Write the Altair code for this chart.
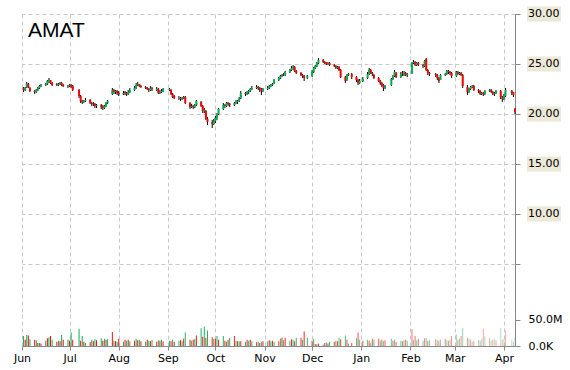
import altair as alt
import pandas as pd

ticker = "AMAT"

# exchange holidays inside the period (no bars on these days)
holidays = ["2014-07-04", "2014-09-01", "2014-11-27", "2014-12-25",
            "2015-01-01", "2015-01-19", "2015-02-16", "2015-04-03"]

# daily prices, one line per month (Jun 2014 .. Apr 2015)
opens = [
    22.6, 22.4, 22.7, 23.0, 22.6, 22.3, 22.2, 22.4, 22.6, 22.8, 22.9, 23.0, 23.2, 23.4, 23.1, 23.0, 22.9, 23.0, 23.1, 22.9, 22.8,
    22.8, 22.9, 22.8, 22.4, 21.8, 21.3, 21.2, 21.3, 21.4, 21.1, 21.0, 21.0, 20.8, 20.9, 20.8, 20.6, 20.8, 21.1, 22.0, 22.4, 22.2, 22.3,
    22.1, 22.0, 22.2, 22.1, 22.0, 22.2, 22.4, 22.6, 22.9, 23.0, 22.8, 22.7, 22.6, 22.5, 22.4, 22.6, 22.4, 22.5, 22.1, 22.2, 22.3,
    22.4, 22.4, 22.0, 21.8, 21.6, 21.6, 21.5, 21.6, 21.7, 21.1, 20.7, 20.8, 20.7, 20.9, 21.2, 20.8, 20.3, 20.3, 19.5, 19.2, 19.0,
    19.3, 19.6, 20.0, 20.5, 20.9, 20.8, 21.1, 21.0, 20.9, 21.1, 21.2, 21.3, 21.6, 22.1, 22.0, 22.2, 22.3, 22.5, 22.6, 22.7, 22.6, 22.5, 22.3,
    22.5, 22.6, 22.8, 22.9, 23.1, 23.4, 23.6, 23.8, 24.0, 23.9, 24.2, 24.4, 24.6, 24.7, 24.3, 24.1, 23.9, 23.8, 23.6,
    23.8, 24.2, 24.6, 24.8, 25.1, 25.4, 25.2, 25.2, 25.0, 25.1, 24.9, 24.8, 24.6, 24.7, 24.4, 23.7, 23.4, 23.9, 24.0, 23.7, 23.4, 23.1,
    23.3, 23.6, 24.0, 24.4, 24.1, 23.9, 23.6, 23.3, 23.1, 22.9, 22.6, 22.9, 23.5, 23.8, 24.1, 23.7, 24.1, 23.9, 24.1, 23.9,
    24.1, 25.1, 25.2, 24.9, 25.1, 24.9, 24.8, 25.5, 24.4, 24.1, 24.0, 23.9, 23.6, 23.4, 23.9, 24.0, 24.3, 24.2, 24.1,
    23.8, 24.2, 24.0, 24.1, 23.9, 22.7, 22.2, 22.5, 22.7, 22.8, 22.4, 22.3, 22.0, 22.1, 22.0, 22.3, 22.4, 22.2, 22.0, 22.1, 22.3, 21.7,
    21.5, 21.8, 22.3, 22.2, 20.5,
]
highs = [
    22.7, 22.7, 23.2, 23.1, 22.7, 22.4, 22.5, 22.7, 22.9, 23.0, 23.1, 23.4, 23.6, 23.4, 23.2, 23.1, 23.1, 23.2, 23.2, 23.0, 22.9,
    23.0, 23.0, 22.9, 22.5, 21.9, 21.4, 21.4, 21.6, 21.5, 21.2, 21.2, 21.1, 21.0, 21.0, 20.9, 20.9, 21.2, 21.4, 22.6, 22.5, 22.4, 22.4,
    22.3, 22.3, 22.3, 22.2, 22.4, 22.6, 22.8, 23.1, 23.2, 23.0, 22.9, 22.8, 22.7, 22.6, 22.8, 22.7, 22.7, 22.6, 22.4, 22.5, 22.6,
    22.6, 22.5, 22.1, 21.9, 21.8, 21.7, 21.7, 21.8, 21.8, 21.2, 21.0, 20.9, 21.0, 21.4, 21.3, 20.9, 20.6, 20.4, 19.7, 19.4, 19.5,
    19.8, 20.1, 20.6, 21.1, 21.0, 21.2, 21.2, 21.1, 21.2, 21.4, 21.4, 21.7, 22.3, 22.2, 22.3, 22.4, 22.6, 22.8, 22.9, 22.8, 22.7, 22.6, 22.6,
    22.8, 22.9, 23.0, 23.1, 23.5, 23.7, 23.9, 24.0, 24.1, 24.3, 24.5, 24.8, 24.9, 24.8, 24.4, 24.2, 24.0, 23.9, 23.9,
    24.4, 24.7, 24.9, 25.2, 25.6, 25.5, 25.3, 25.2, 25.2, 25.2, 25.0, 24.9, 24.8, 24.8, 24.5, 23.8, 24.0, 24.1, 24.1, 23.8, 23.5, 23.5,
    23.7, 24.2, 24.6, 24.5, 24.2, 24.0, 23.7, 23.4, 23.2, 23.0, 22.9, 23.6, 23.9, 24.4, 24.2, 24.2, 24.3, 24.3, 24.2, 24.1,
    25.2, 25.4, 25.3, 25.2, 25.2, 25.0, 25.4, 25.6, 24.5, 24.2, 24.1, 24.0, 23.7, 24.0, 24.1, 24.4, 24.4, 24.3, 24.2,
    24.3, 24.3, 24.2, 24.2, 24.0, 22.9, 22.6, 22.8, 22.9, 22.9, 22.5, 22.4, 22.2, 22.2, 22.4, 22.5, 22.5, 22.3, 22.2, 22.4, 22.4, 21.8,
    22.0, 22.6, 22.4, 22.2, 20.6,
]
lows = [
    22.2, 22.3, 22.6, 22.6, 22.2, 22.0, 22.1, 22.3, 22.5, 22.7, 22.8, 22.9, 23.1, 23.0, 22.8, 22.8, 22.8, 22.9, 22.8, 22.7, 22.6,
    22.7, 22.6, 22.3, 21.6, 21.1, 21.0, 21.1, 21.2, 21.0, 20.8, 20.8, 20.6, 20.6, 20.5, 20.4, 20.5, 20.7, 21.0, 21.9, 22.0, 22.0, 21.9,
    21.8, 21.9, 21.9, 21.8, 21.9, 22.1, 22.3, 22.5, 22.8, 22.7, 22.6, 22.5, 22.4, 22.2, 22.3, 22.3, 22.3, 22.0, 22.0, 22.1, 22.2,
    22.3, 21.9, 21.6, 21.5, 21.4, 21.3, 21.4, 21.5, 21.0, 20.5, 20.6, 20.5, 20.6, 20.8, 20.7, 20.1, 20.1, 19.4, 18.9, 18.6, 18.9,
    19.1, 19.4, 19.9, 20.4, 20.6, 20.7, 20.8, 20.7, 20.8, 21.0, 21.0, 21.2, 21.5, 21.8, 21.9, 22.0, 22.2, 22.4, 22.5, 22.4, 22.2, 21.9, 22.2,
    22.4, 22.5, 22.7, 22.8, 23.0, 23.3, 23.5, 23.7, 23.8, 23.8, 24.1, 24.3, 24.4, 24.2, 24.0, 23.8, 23.6, 23.3, 23.5,
    23.7, 24.1, 24.5, 24.7, 25.0, 25.1, 25.0, 24.9, 24.9, 24.8, 24.7, 24.5, 24.5, 24.3, 23.6, 23.1, 23.3, 23.8, 23.5, 23.2, 22.9, 23.0,
    23.2, 23.5, 23.9, 24.0, 23.8, 23.5, 23.2, 22.9, 22.7, 22.3, 22.5, 22.8, 23.4, 23.7, 23.6, 23.6, 23.8, 23.8, 23.8, 23.7,
    24.0, 25.0, 24.8, 24.8, 24.8, 24.6, 24.7, 24.3, 23.9, 23.8, 23.7, 23.4, 23.1, 23.4, 23.8, 23.9, 24.0, 23.9, 23.6,
    23.7, 23.9, 23.9, 23.8, 22.6, 21.9, 22.1, 22.4, 22.6, 22.3, 22.1, 21.9, 21.9, 21.8, 21.9, 22.2, 22.1, 21.9, 21.8, 22.0, 21.5, 21.2,
    21.4, 21.7, 21.9, 21.7, 20.0,
]
closes = [
    22.4, 22.6, 23.0, 22.7, 22.3, 22.2, 22.4, 22.6, 22.8, 22.9, 23.0, 23.3, 23.4, 23.1, 22.9, 22.9, 23.0, 23.1, 22.9, 22.8, 22.8,
    22.9, 22.7, 22.4, 21.8, 21.3, 21.2, 21.3, 21.4, 21.1, 21.0, 21.0, 20.8, 20.9, 20.7, 20.6, 20.8, 21.1, 21.3, 22.4, 22.2, 22.3, 22.1,
    22.0, 22.1, 22.1, 22.0, 22.2, 22.4, 22.6, 22.9, 23.0, 22.8, 22.7, 22.6, 22.5, 22.4, 22.6, 22.5, 22.5, 22.1, 22.2, 22.3, 22.5,
    22.5, 22.0, 21.7, 21.6, 21.6, 21.5, 21.6, 21.7, 21.1, 20.7, 20.8, 20.7, 20.9, 21.3, 20.8, 20.3, 20.4, 19.5, 19.2, 19.0, 19.3,
    19.6, 19.9, 20.5, 20.9, 20.8, 21.1, 21.0, 20.9, 21.1, 21.2, 21.3, 21.5, 22.1, 22.0, 22.2, 22.3, 22.5, 22.6, 22.7, 22.6, 22.5, 22.3, 22.5,
    22.6, 22.8, 22.9, 23.0, 23.4, 23.6, 23.8, 23.9, 23.9, 24.2, 24.4, 24.6, 24.7, 24.3, 24.1, 23.9, 23.8, 23.6, 23.8,
    24.2, 24.6, 24.8, 25.1, 25.4, 25.2, 25.1, 25.0, 25.1, 24.9, 24.8, 24.6, 24.7, 24.4, 23.7, 23.3, 23.9, 24.0, 23.7, 23.4, 23.1, 23.3,
    23.5, 24.0, 24.4, 24.1, 24.0, 23.6, 23.3, 23.1, 22.9, 22.6, 22.8, 23.5, 23.7, 24.2, 23.7, 24.0, 24.0, 24.1, 23.9, 24.0,
    25.1, 25.2, 24.9, 25.1, 24.9, 24.8, 25.3, 24.4, 24.1, 24.0, 23.9, 23.6, 23.3, 23.9, 24.0, 24.3, 24.2, 24.1, 23.8,
    24.2, 24.0, 24.1, 23.9, 22.8, 22.2, 22.5, 22.7, 22.8, 22.4, 22.3, 22.0, 22.1, 22.0, 22.3, 22.4, 22.2, 22.0, 22.1, 22.3, 21.7, 21.5,
    21.8, 22.4, 22.1, 21.9, 20.2,
]
# daily volume, millions of shares
volumes = [
    19, 12, 21, 20, 13, 12, 11, 6, 6, 5, 10, 15, 17, 19, 12, 8, 10, 9, 21, 12, 12,
    10, 26, 12, 33, 10, 19, 8, 6, 7, 12, 9, 13, 11, 15, 10, 14, 12, 13, 27, 10, 9, 8,
    14, 8, 12, 10, 12, 9, 10, 14, 11, 12, 9, 8, 12, 10, 9, 12, 8, 11, 10, 12, 9,
    10, 9, 12, 8, 10, 11, 9, 14, 26, 12, 10, 12, 14, 20, 34, 18, 37, 16, 30, 17, 14,
    14, 19, 12, 19, 10, 8, 12, 16, 19, 10, 9, 9, 9, 8, 12, 10, 12, 9, 7, 8, 6, 8, 9,
    9, 11, 9, 10, 8, 9, 14, 16, 11, 16, 10, 13, 12, 9, 16, 16, 12, 28, 16,
    10, 14, 4, 4, 5, 3, 6, 7, 5, 8, 8, 10, 9, 16, 13, 20, 12, 5, 6, 15, 26, 12,
    10, 12, 10, 6, 14, 12, 14, 10, 12, 9, 11, 14, 10, 12, 8, 10, 9, 11, 12, 10,
    32, 12, 19, 11, 14, 10, 15, 15, 10, 12, 13, 11, 10, 12, 14, 11, 10, 12, 19,
    22, 12, 14, 19, 35, 16, 15, 12, 8, 10, 12, 10, 14, 33, 19, 15, 10, 12, 14, 11, 35, 12,
    14, 30, 12, 8, 16,
]

price_ticks = [30, 25, 20, 15, 10]
price_labels = ["30.00", "25.00", "20.00", "15.00", "10.00"]

dates = pd.bdate_range("2014-06-02", "2015-04-08", freq="C", holidays=holidays)
df = pd.DataFrame({"date": dates, "open": opens, "high": highs, "low": lows,
                   "close": closes, "vol": volumes})
df["idx"] = range(len(df))
df["dir"] = ["up" if c >= o else "down" for o, c in zip(opens, closes)]
df["tone"] = [str(i % 6) for i in range(len(df))]

x_dom = [alt.DateTime(year=2014, month=6, date=1), alt.DateTime(year=2015, month=4, date=8)]
grid_color = "#c8c8c8"
axis_gray = "#888888"
month_ticks = {"interval": "month", "step": 1}

x_top = alt.X("date:T", scale=alt.Scale(domain=x_dom, nice=False, padding=0),
              axis=alt.Axis(grid=True, labels=False, ticks=False, domain=False, title=None,
                            tickCount=month_ticks, gridDash=[4, 3], gridColor=grid_color))
y_price = alt.Y("low:Q", scale=alt.Scale(domain=[0, 30], nice=False, zero=False, padding=0),
                axis=alt.Axis(orient="right", values=[5, 10, 15, 20, 25, 30], labels=False,
                              ticks=True, tickSize=5, tickColor=axis_gray, domain=True,
                              domainColor=axis_gray, grid=True, gridDash=[4, 3],
                              gridColor=grid_color, title=None))

wicks = alt.Chart(df).mark_rule(color="black", strokeWidth=1).encode(
    x=x_top, y=y_price, y2="high:Q")
bodies = alt.Chart(df).mark_rule(strokeWidth=2).encode(
    x="date:T", y="open:Q", y2="close:Q",
    color=alt.Color("dir:N", scale=alt.Scale(domain=["up", "down"], range=["#00b050", "#ff0000"]),
                    legend=None))

lab_df = pd.DataFrame({"v": price_ticks, "t": price_labels})
lab_bg = alt.Chart(lab_df).mark_tick(orient="horizontal", color="#ECE9D8", thickness=15,
                                     size=34, opacity=1).encode(x=alt.value(522), y="v:Q")
lab_txt = alt.Chart(lab_df).mark_text(align="left", baseline="middle", font="DejaVu Sans",
                                      fontSize=11, color="#000000").encode(
    x=alt.value(506), y="v:Q", text="t:N")

title_df = pd.DataFrame({"t": [ticker]})
title = alt.Chart(title_df).mark_text(align="left", baseline="middle", font="Liberation Sans",
                                      fontSize=21, color="#000000").encode(
    x=alt.value(6), y=alt.value(17), text="t:N")

top = alt.layer(wicks, bodies, lab_bg, lab_txt, title).properties(width=493, height=300)

palette = ["#4F81BD", "#C0504D", "#9BBB59", "#8064A2", "#4BACC6", "#F79646"]
x_bot = alt.X("date:T", scale=alt.Scale(domain=x_dom, nice=False, padding=0),
              axis=alt.Axis(grid=True, gridDash=[4, 3], gridColor=grid_color, format="%b",
                            tickCount=month_ticks, domainColor=axis_gray, tickColor=axis_gray,
                            tickSize=4, title=None, labelFont="DejaVu Sans", labelFontSize=11,
                            labelColor="#000000", labelPadding=2, labelFlush=False))
y_vol = alt.Y("vol:Q", scale=alt.Scale(domain=[0, 61.5], nice=False, padding=0),
              axis=alt.Axis(orient="right", values=[0, 50],
                            labelExpr="datum.value == 0 ? '0.0K' : '50.0M'",
                            grid=False, tickSize=5, tickColor=axis_gray, domainColor=axis_gray,
                            labelPadding=8, labelFont="DejaVu Sans", labelFontSize=11,
                            labelColor="#000000", title=None, labelFlush=False))
vol = alt.Chart(df).mark_bar(width=1).encode(
    x=x_bot, y=y_vol,
    color=alt.Color("tone:N", scale=alt.Scale(domain=[str(i) for i in range(6)], range=palette),
                    legend=None),
    opacity=alt.Opacity("idx:Q", scale=alt.Scale(domain=[0, 126, 214], range=[1, 0.85, 0.3]),
                        legend=None))
bottom = vol.properties(width=493, height=32)

chart = alt.vconcat(top, bottom, spacing=0, bounds="flush").properties(
    padding={"left": 13, "top": 6, "right": 3, "bottom": 3},
    background="white",
).configure_view(stroke=None)

chart.save("out.html", embed_options={"renderer": "svg", "actions": False})
